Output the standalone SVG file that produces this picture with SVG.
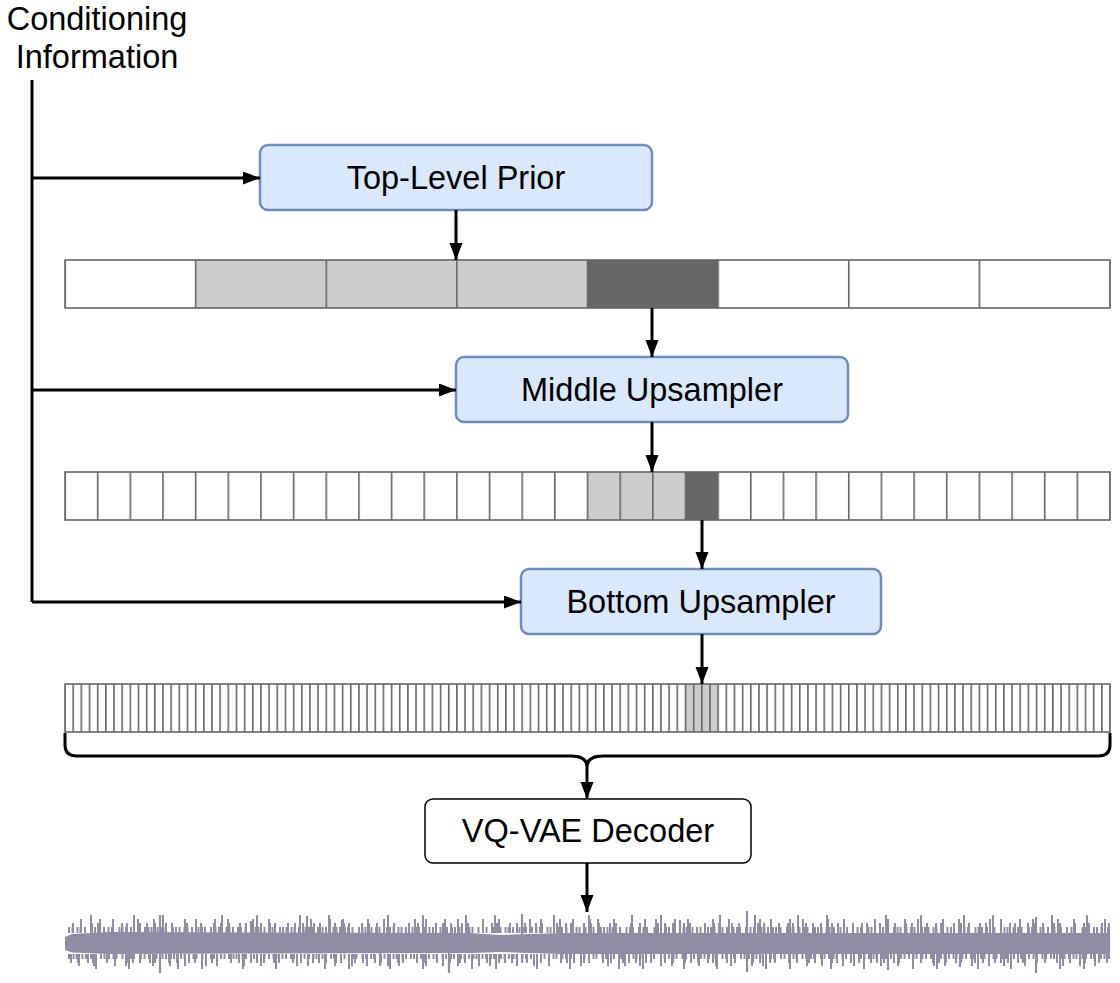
<svg xmlns="http://www.w3.org/2000/svg" width="1120" height="983" viewBox="0 0 1120 983">
<style>
.lbl{font-family:"Liberation Sans",Arial,sans-serif;font-size:32.5px;fill:#000;text-anchor:middle}
.blue{fill:#dae8fc;stroke:#6c8ebf;stroke-width:2.5}
.white{fill:#fff;stroke:#000;stroke-width:1.5}
.conn{stroke:#000;stroke-width:3;fill:none}
.cellborder{fill:none;stroke:#666;stroke-width:1.6}
.wv{stroke:#8f8da3;fill:none}
</style>
<defs>
<marker id="arr" markerUnits="userSpaceOnUse" markerWidth="18" markerHeight="14" refX="17" refY="6.5" orient="auto">
<path d="M0,0 L17,6.5 L0,13 Z" fill="#000"/>
</marker>
<pattern id="p1" patternUnits="userSpaceOnUse" x="64.2" y="260" width="130.625" height="48"><rect x="0" y="0" width="1.6" height="48" fill="#666"/></pattern>
<pattern id="p2" patternUnits="userSpaceOnUse" x="64.2" y="472" width="32.65625" height="48"><rect x="0" y="0" width="1.6" height="48" fill="#666"/></pattern>
<pattern id="p3" patternUnits="userSpaceOnUse" x="64.2" y="684" width="8.1640625" height="48"><rect x="0" y="0" width="1.6" height="48" fill="#666"/></pattern>
</defs>

<g id="conditioning-label">
<text class="lbl" x="97" y="30">Conditioning</text>
<text class="lbl" x="97" y="68">Information</text>
</g>

<g id="top-level-prior">
<rect class="blue" x="260" y="145" width="392" height="65" rx="8"/>
<text class="lbl" x="456" y="189">Top-Level Prior</text>
</g>

<g id="top-tokens">
<rect x="65" y="260" width="1045" height="48" fill="#fff"/>
<rect x="195.6" y="260" width="391.9" height="48" fill="#cccccc"/>
<rect x="587.5" y="260" width="130.6" height="48" fill="#666666"/>
<rect x="65" y="260" width="1045" height="48" fill="url(#p1)"/>
<rect class="cellborder" x="65" y="260" width="1045" height="48"/>
</g>

<g id="middle-upsampler">
<rect class="blue" x="456" y="357" width="392" height="65" rx="8"/>
<text class="lbl" x="652" y="401">Middle Upsampler</text>
</g>

<g id="middle-tokens">
<rect x="65" y="472" width="1045" height="48" fill="#fff"/>
<rect x="587.5" y="472" width="98" height="48" fill="#cccccc"/>
<rect x="685.5" y="472" width="32.6" height="48" fill="#666666"/>
<rect x="65" y="472" width="1045" height="48" fill="url(#p2)"/>
<rect class="cellborder" x="65" y="472" width="1045" height="48"/>
</g>

<g id="bottom-upsampler">
<rect class="blue" x="521" y="569" width="360" height="65" rx="8"/>
<text class="lbl" x="701" y="613">Bottom Upsampler</text>
</g>

<g id="bottom-tokens">
<rect x="65" y="684" width="1045" height="48" fill="#fff"/>
<rect x="685.5" y="684" width="32.6" height="48" fill="#cccccc"/>
<rect x="65" y="684" width="1045" height="48" fill="url(#p3)"/>
<rect class="cellborder" x="65" y="684" width="1045" height="48"/>
</g>

<g id="vqvae-decoder">
<rect class="white" x="425" y="799" width="326" height="64" rx="8"/>
<text class="lbl" x="588" y="842">VQ-VAE Decoder</text>
</g>

<g id="waveform">
<path d="M65,937 L72,934 L110,932 L470,933 L500,935 L560,933 L1110,933 L1110,954 L560,954 L500,952 L470,953 L110,954 L72,952.5 L65,950 Z" fill="#8f8da3"/>
<line class="wv" x1="68" y1="930" x2="1110" y2="930" stroke-width="6" stroke-dasharray="2 1.5 2 3 2 1 2 2.5 2 4.5 2 1.5 2 1 2 4 2 2.5 2 1.5 2 5.5 2 1"/>
<line class="wv" x1="72" y1="928" x2="1110" y2="928" stroke-width="10" stroke-dasharray="2 6 2 9 2 4 2 13 2 7 2 3 2 11 2 5"/>
<line class="wv" x1="80" y1="926" x2="1110" y2="926" stroke-width="14" stroke-dasharray="2 17 2 11 2 23 2 14 2 29 2 9"/>
<line class="wv" x1="90" y1="924" x2="1110" y2="924" stroke-width="18" stroke-dasharray="2 41 2 27 2 57 2 33"/>
<line class="wv" x1="68" y1="956.5" x2="1110" y2="956.5" stroke-width="5" stroke-dasharray="2 2.5 2 1 2 4 2 1.5 2 3 2 1 2 5 2 1.5 2 2.5"/>
<line class="wv" x1="70" y1="958.5" x2="1110" y2="958.5" stroke-width="9" stroke-dasharray="2 5 2 8 2 3 2 12 2 6 2 10 2 4"/>
<line class="wv" x1="78" y1="960" x2="1110" y2="960" stroke-width="12" stroke-dasharray="2 13 2 19 2 9 2 25 2 15"/>
<line class="wv" x1="95" y1="961.5" x2="1110" y2="961.5" stroke-width="15" stroke-dasharray="2 31 2 47 2 22 2 39"/>
<path class="wv" stroke-width="2.2" d="M160,915 V973 M307,916 V950 M449,936 V973 M522,914 V950 M747,911 V972 M888,919 V970 M1036,917 V973 M100,921 V937 M251,921 V937 M342,920 V937 M380,950 V966 M590,919 V937 M905,921 V937 M960,950 V967 M680,920 V937"/>
</g>

<g id="connectors">
<path class="conn" d="M32,80 V602"/>
<line class="conn" x1="32" y1="178" x2="260" y2="178" marker-end="url(#arr)"/>
<line class="conn" x1="32" y1="390" x2="456" y2="390" marker-end="url(#arr)"/>
<line class="conn" x1="32" y1="602" x2="521" y2="602" marker-end="url(#arr)"/>
<line class="conn" x1="456" y1="210" x2="456" y2="260" marker-end="url(#arr)"/>
<line class="conn" x1="652" y1="308" x2="652" y2="357" marker-end="url(#arr)"/>
<line class="conn" x1="652" y1="422" x2="652" y2="472" marker-end="url(#arr)"/>
<line class="conn" x1="702" y1="520" x2="702" y2="569" marker-end="url(#arr)"/>
<line class="conn" x1="702" y1="634" x2="702" y2="684" marker-end="url(#arr)"/>
<path class="conn" d="M65,733 V745 Q65,756 77,756 H571 Q587,756 587,767 Q587,756 603,756 H1098 Q1110,756 1110,745 V733"/>
<line class="conn" x1="587" y1="767" x2="587" y2="799" marker-end="url(#arr)"/>
<line class="conn" x1="587" y1="863" x2="587" y2="912" marker-end="url(#arr)"/>
</g>
</svg>
